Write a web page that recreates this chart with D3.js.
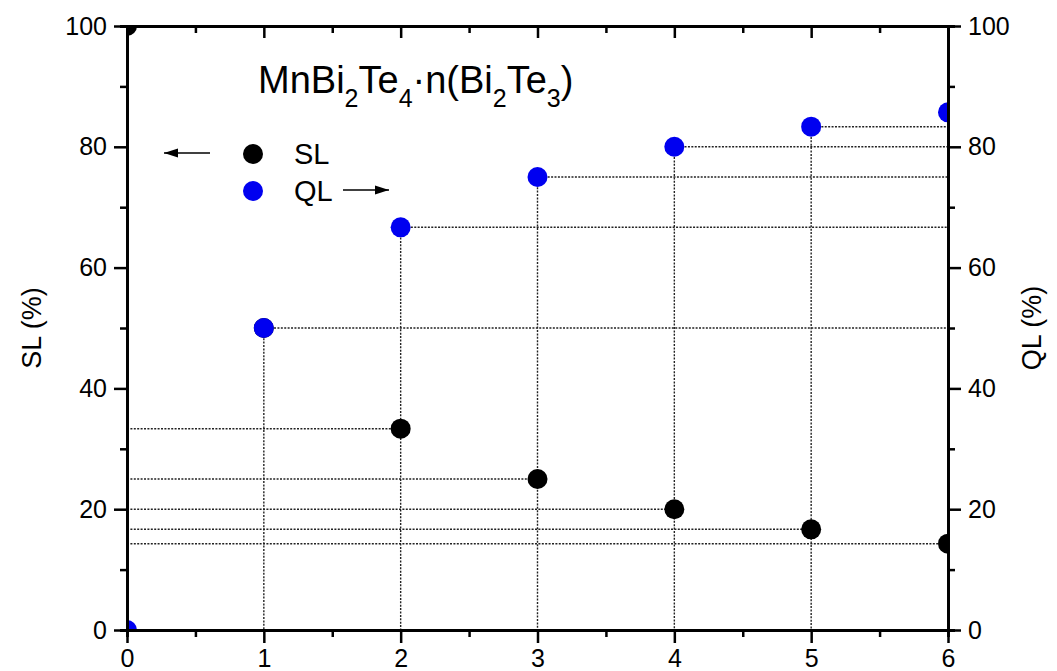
<!DOCTYPE html>
<html>
<head>
<meta charset="utf-8">
<script src="https://cdn.jsdelivr.net/npm/d3@7"></script>
<style>
  body { margin: 0; background: #fff; }
  svg { font-family: "Liberation Sans", Arial, sans-serif; }
</style>
</head>
<body>
<div id="chart"></div>
<script>
// data
var nValues = [0, 1, 2, 3, 4, 5, 6];
var slValues = [100, 50, 33.33, 25, 20, 16.67, 14.29];
var qlValues = [0, 50, 66.67, 75, 80, 83.33, 85.71];
var xTicks = [0, 1, 2, 3, 4, 5, 6];
var yTicks = [0, 20, 40, 60, 80, 100];

var width = 1057, height = 671;
var margin = { top: 26, left: 127, right: 109, bottom: 41 };
var plotW = width - margin.left - margin.right;
var plotH = height - margin.top - margin.bottom;

var x = d3.scaleLinear().domain([0, 6]).range([0, plotW]);
var y = d3.scaleLinear().domain([0, 100]).range([plotH, 0]);

var svg = d3.select("#chart")
    .append("svg")
    .attr("width", width)
    .attr("height", height);

var defs = svg.append("defs");
defs.append("clipPath").attr("id", "plotClip")
    .append("rect").attr("width", plotW).attr("height", plotH);
// filled arrow head for the legend arrows
defs.append("path")
    .attr("id", "arrowShape")
    .attr("d", "M0,0 L-14,-4.5 L-14,4.5 Z");

var g = svg.append("g")
    .attr("transform", "translate(" + [margin.left, margin.top] + ")");

var points = nValues.map(function (n, i) {
    return { n: n, sl: slValues[i], ql: qlValues[i] };
});

// dotted guide lines
var guides = g.append("g")
    .attr("stroke", "#222")
    .attr("stroke-width", 1.4)
    .attr("stroke-dasharray", "2,1.4")
    .attr("fill", "none");

// SL to left axis
guides.selectAll(".slGuide")
    .data(points.filter(function (d) { return d.n >= 2; }))
    .enter().append("line")
    .attr("x1", 0).attr("x2", function (d) { return x(d.n); })
    .attr("y1", function (d) { return y(d.sl); })
    .attr("y2", function (d) { return y(d.sl); });

// QL to right axis
guides.selectAll(".qlGuide")
    .data(points.filter(function (d) { return d.n >= 1 && d.n < 6; }))
    .enter().append("line")
    .attr("x1", function (d) { return x(d.n); }).attr("x2", plotW)
    .attr("y1", function (d) { return y(d.ql); })
    .attr("y2", function (d) { return y(d.ql); });

// verticals down to the n axis
guides.selectAll(".vGuide")
    .data(points.filter(function (d) { return d.n >= 1 && d.n < 6; }))
    .enter().append("line")
    .attr("x1", function (d) { return x(d.n); })
    .attr("x2", function (d) { return x(d.n); })
    .attr("y1", function (d) { return y(d.ql); })
    .attr("y2", plotH);

// points
var dots = g.append("g").attr("clip-path", "url(#plotClip)");
dots.selectAll(".sl")
    .data(points)
    .enter().append("circle")
    .attr("cx", function (d) { return x(d.n); })
    .attr("cy", function (d) { return y(d.sl); })
    .attr("r", 10)
    .attr("fill", "#000");
dots.selectAll(".ql")
    .data(points)
    .enter().append("circle")
    .attr("cx", function (d) { return x(d.n); })
    .attr("cy", function (d) { return y(d.ql); })
    .attr("r", 10)
    .attr("fill", "#0000f0");

// axes
function styleAxis(sel) {
    sel.select(".domain").attr("stroke-width", 2.8);
    sel.selectAll(".tick line").attr("stroke-width", 2.5);
    sel.selectAll("text").attr("font-size", 25).attr("fill", "#000");
}
var minorX = d3.range(0.5, 6, 1);
var minorY = d3.range(10, 100, 20);

g.append("g").attr("transform", "translate(0," + plotH + ")")
    .call(d3.axisBottom(x).tickValues(xTicks).tickSize(13).tickSizeOuter(0).tickPadding(6).tickFormat(d3.format("d")))
    .call(styleAxis);
g.append("g").attr("transform", "translate(0," + plotH + ")")
    .call(d3.axisBottom(x).tickValues(minorX).tickSize(7).tickFormat(""))
    .call(styleAxis);

g.append("g")
    .call(d3.axisBottom(x).tickValues(xTicks).tickSize(12).tickSizeOuter(0).tickFormat(""))
    .call(styleAxis);
g.append("g")
    .call(d3.axisBottom(x).tickValues(minorX).tickSize(7).tickFormat(""))
    .call(styleAxis);

g.append("g")
    .call(d3.axisLeft(y).tickValues(yTicks).tickSize(13).tickSizeOuter(0).tickPadding(7))
    .call(styleAxis);
g.append("g")
    .call(d3.axisLeft(y).tickValues(minorY).tickSize(7).tickFormat(""))
    .call(styleAxis);

g.append("g").attr("transform", "translate(" + plotW + ",0)")
    .call(d3.axisRight(y).tickValues(yTicks).tickSize(13).tickSizeOuter(0).tickPadding(7))
    .call(styleAxis);
g.append("g").attr("transform", "translate(" + plotW + ",0)")
    .call(d3.axisRight(y).tickValues(minorY).tickSize(7).tickFormat(""))
    .call(styleAxis);

// axis titles
svg.append("text")
    .attr("transform", "translate(41," + (margin.top + plotH / 2) + ") rotate(-90)")
    .attr("text-anchor", "middle")
    .attr("font-size", 27)
    .text("SL (%)");
svg.append("text")
    .attr("transform", "translate(1041," + (margin.top + plotH / 2) + ") rotate(-90)")
    .attr("text-anchor", "middle")
    .attr("font-size", 27)
    .text("QL (%)");

// formula title
var title = svg.append("text")
    .attr("x", 258).attr("y", 93)
    .attr("font-size", 38);
var parts = [["MnBi", 0], ["2", 1], ["Te", 0], ["4", 1], ["\u00b7n(Bi", 0], ["2", 1], ["Te", 0], ["3", 1], [")", 0]];
var prevSub = 0;
parts.forEach(function (p) {
    title.append("tspan")
        .attr("dy", (p[1] - prevSub) * 14)
        .attr("font-size", p[1] ? 25 : 38)
        .text(p[0]);
    prevSub = p[1];
});

// legend
var legend = svg.append("g");
legend.append("circle").attr("cx", 253).attr("cy", 154).attr("r", 10).attr("fill", "#000");
legend.append("text").attr("x", 294).attr("y", 164).attr("font-size", 29).text("SL");
legend.append("circle").attr("cx", 253).attr("cy", 191).attr("r", 10).attr("fill", "#0000f0");
legend.append("text").attr("x", 294).attr("y", 201).attr("font-size", 29).text("QL");

// arrows pointing at the axis each series belongs to
var arrows = [
    { x1: 210, x2: 164, y: 153 },
    { x1: 343, x2: 389, y: 190 }
];
arrows.forEach(function (a) {
    legend.append("line")
        .attr("x1", a.x1).attr("y1", a.y).attr("x2", a.x2).attr("y2", a.y)
        .attr("stroke", "#000").attr("stroke-width", 1.6);
    legend.append("use")
        .attr("href", "#arrowShape")
        .attr("fill", "#000")
        .attr("transform", "translate(" + a.x2 + "," + a.y + ")" + (a.x2 < a.x1 ? " scale(-1,1)" : ""));
});
</script>
</body>
</html>
